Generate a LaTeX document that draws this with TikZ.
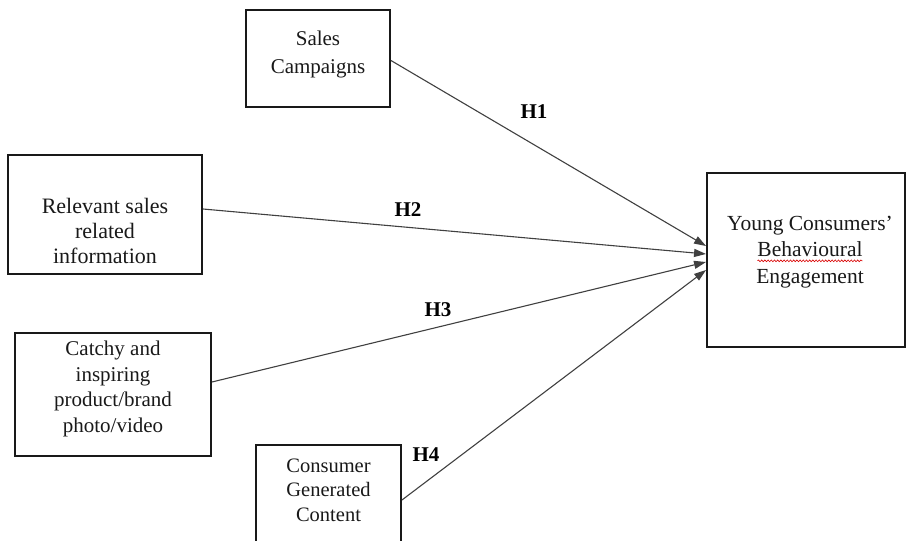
\documentclass[tikz,border=0pt]{standalone}
\usepackage{fontspec}
\setmainfont{Liberation Serif}
\usetikzlibrary{arrows.meta,decorations.pathmorphing}
\newcommand\spellwave[1]{\tikz[baseline=(sw.base),x=1cm,y=1cm]{\node[inner sep=0pt,outer sep=0pt](sw){#1};\draw[red!85!black,line width=0.6pt,decorate,decoration={snake,amplitude=0.9pt,segment length=3.2pt}] ([yshift=-4pt]sw.base west) -- ([yshift=-4pt]sw.base east);}}
\begin{document}
\begin{tikzpicture}[x=1pt,y=-1pt,
  box/.style={draw=black!90,line width=1.9pt,inner sep=0pt},
  txt/.style={align=center,inner sep=0pt,text=black!90,font=\fontsize{21}{25.5}\selectfont},
  conn/.style={draw=black!75,line width=1.1pt,-{Triangle[length=12pt,width=8pt]}},
  hlab/.style={inner sep=0pt,font=\fontsize{21}{25}\selectfont\bfseries}]
\path[use as bounding box] (0,0) rectangle (906,541);
\clip (0,0) rectangle (906,541);
% boxes
\node[box,minimum width=144pt,minimum height=97pt] (sales) at (318,58.5) {};
\node[box,minimum width=194pt,minimum height=119pt] (rel) at (105,214.5) {};
\node[box,minimum width=196pt,minimum height=123pt] (catchy) at (113,394.5) {};
\node[box,minimum width=145pt,minimum height=100pt] (cgc) at (328.5,495) {};
\node[box,minimum width=198pt,minimum height=174pt] (young) at (806,260) {};
% texts
\node[txt,font=\fontsize{21}{28}\selectfont] (salesT) at (318,54) {Sales\\Campaigns};
\node[txt,font=\fontsize{22}{25}\selectfont] (relT) at (105,231) {Relevant sales\\related\\information};
\node[txt] (catchyT) at (113,389) {Catchy and\\inspiring\\product/brand\\photo/video};
\node[txt,font=\fontsize{20.5}{24.5}\selectfont] (cgcT) at (328.5,490) {Consumer\\Generated\\Content};
\node[txt,font=\fontsize{21.5}{26.5}\selectfont] (youngT) at (810,252) {Young Consumers'\\\spellwave{Behavioural}\\Engagement};
% connectors
\draw[conn] ([yshift=-2pt]sales.east) -- ([yshift=14pt]young.west);
\draw[conn] ([yshift=5.5pt]rel.east) -- ([yshift=6pt]young.west);
\draw[conn] ([yshift=12.5pt]catchy.east) -- ([yshift=-2pt]young.west);
\draw[conn] ([yshift=-5pt]cgc.east) -- ([yshift=-10pt]young.west);
% labels
\node[hlab] (h1) at (534,112) {H1};
\node[hlab] (h2) at (408,210) {H2};
\node[hlab] (h3) at (438,310) {H3};
\node[hlab] (h4) at (426,455) {H4};
\end{tikzpicture}
\end{document}
